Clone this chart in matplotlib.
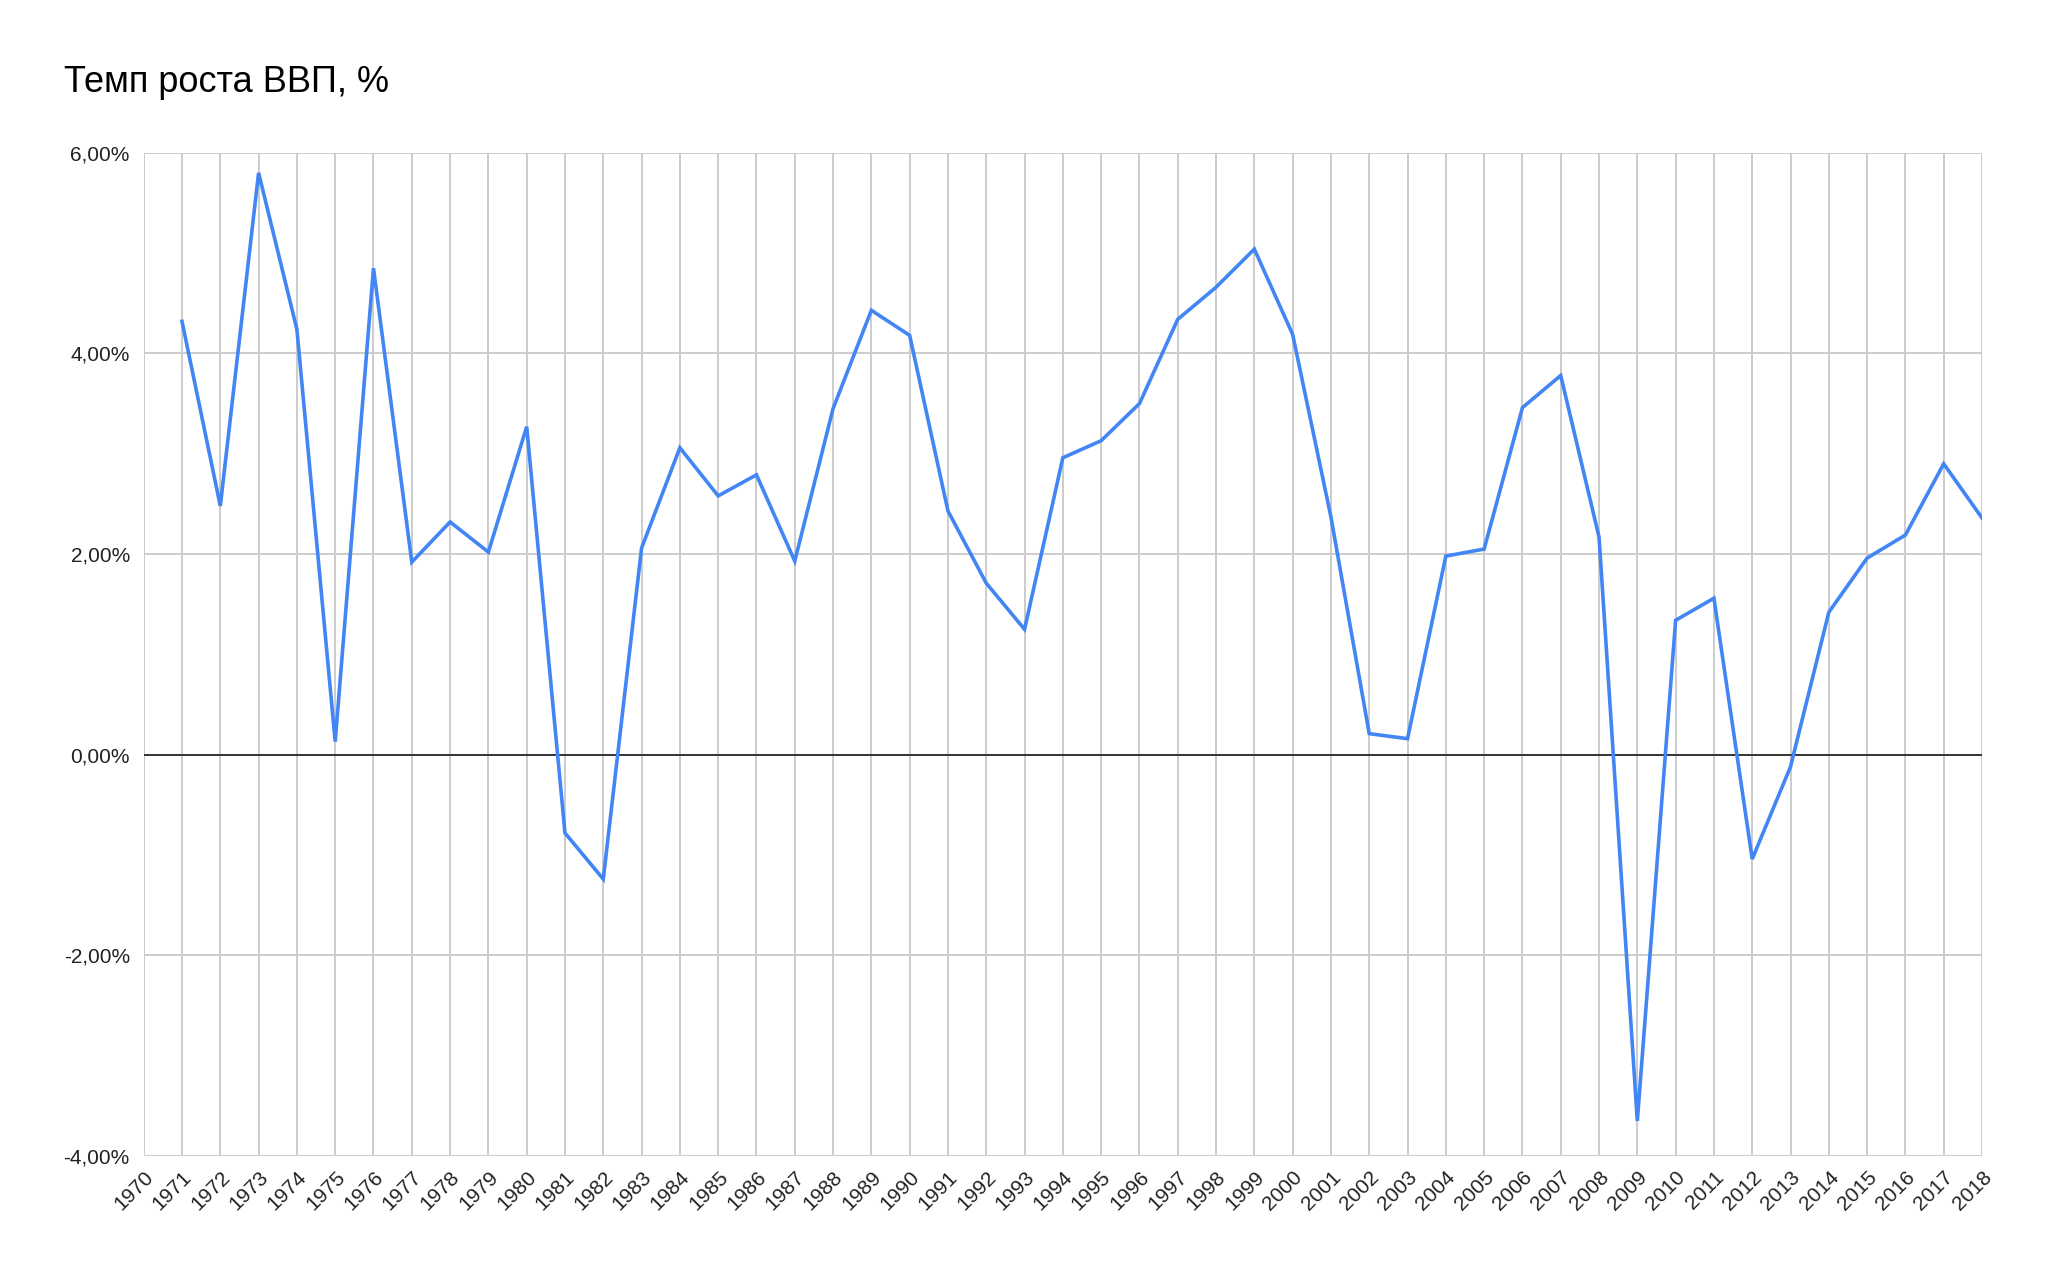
import matplotlib
matplotlib.use("Agg")
import matplotlib.pyplot as plt
import numpy as np

plt.rcParams['font.family'] = ['Liberation Sans', 'DejaVu Sans']

# GDP growth rate, %
years = list(range(1971, 2019))
growth = [4.32, 2.48, 5.80, 4.24, 0.13, 4.85, 1.92, 2.32, 2.02, 3.27,
          -0.78, -1.24, 2.06, 3.06, 2.58, 2.79, 1.93, 3.45, 4.43, 4.18,
          2.43, 1.71, 1.25, 2.96, 3.13, 3.50, 4.34, 4.66, 5.04, 4.19,
          2.37, 0.21, 0.16, 1.98, 2.05, 3.46, 3.78, 2.17, -3.65, 1.34,
          1.56, -1.04, -0.12, 1.42, 1.96, 2.19, 2.90, 2.36]
x_ticks = list(range(1970, 2019))
y_ticks = [-4, -2, 0, 2, 4, 6]
title = "Темп роста ВВП, %"

W, H = 2048, 1273
fig = plt.figure(figsize=(W / 100, H / 100), dpi=100)
ax = fig.add_axes([143.7 / W, (H - 1156) / H, (1982 - 143.7) / W, (1156 - 152.8) / H])

# grid
for xv in x_ticks:
    ax.axvline(xv, color='#cccccc', lw=1.4, zorder=0)
for yv in y_ticks:
    if yv == 0:
        ax.axhline(yv, color='#333333', lw=1.4, zorder=1)
    else:
        ax.axhline(yv, color='#cccccc', lw=1.4, zorder=0)

ax.plot(years, growth, color='#4285f4', lw=2.6, zorder=3, solid_joinstyle='miter')

ax.set_xlim(1970, 2018)
ax.set_ylim(-4, 6)
ax.set_xticks(x_ticks)
ax.set_xticklabels([str(y) for y in x_ticks], rotation=45, ha='right', va='top',
                   rotation_mode='anchor', fontsize=15, color='#222222')
ax.set_yticks(y_ticks)
ax.set_yticklabels([f"{v:.2f}%".replace('.', ',') for v in y_ticks], fontsize=15,
                   color='#222222')
ax.tick_params(axis='both', length=0)
ax.tick_params(axis='y', pad=10)
ax.tick_params(axis='x', pad=8)
for s in ax.spines.values():
    s.set_visible(False)

fig.text(64 / W, 1 - 82 / H, title, fontsize=26, color='#000000', va='center', ha='left')

fig.savefig('out.png', dpi=100, facecolor='white')
